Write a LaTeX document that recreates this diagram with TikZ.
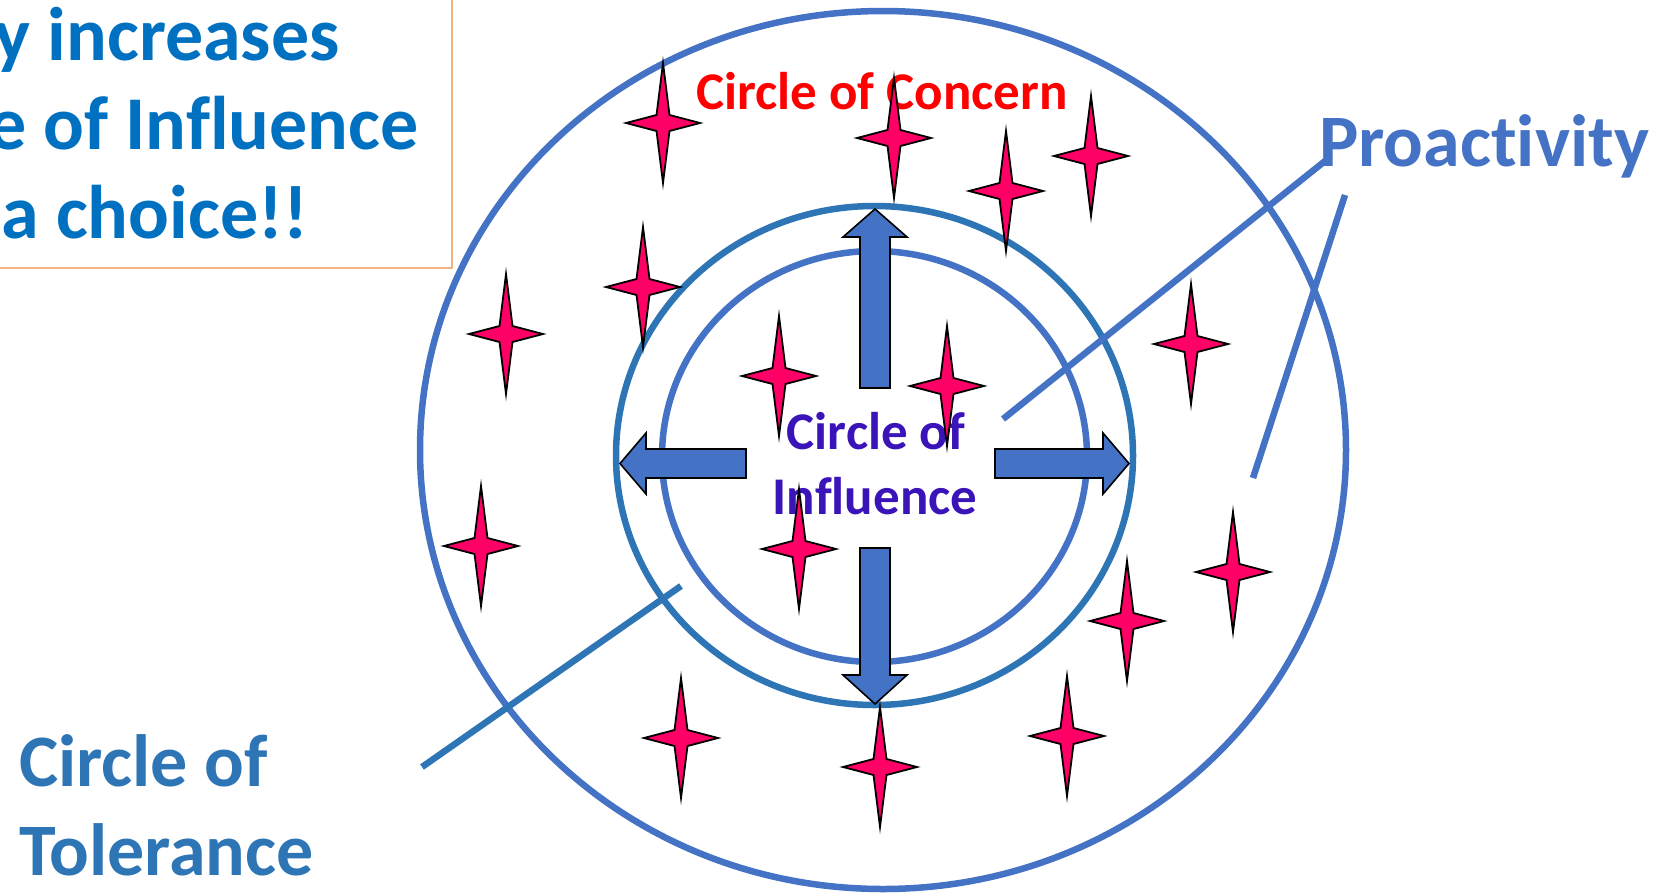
\documentclass[tikz,border=0pt]{standalone}
\usepackage{fontspec}
\setmainfont{Carlito}[RawFeature={-liga;-clig;-calt}]
\definecolor{accblue}{HTML}{4472C4}
\definecolor{tolblue}{HTML}{2E75B6}
\definecolor{boxblue}{HTML}{0070C0}
\definecolor{starpink}{HTML}{FF0066}
\definecolor{inflpurple}{HTML}{3A14B8}
\definecolor{boxorange}{HTML}{F4B183}
\begin{document}
\begin{tikzpicture}[x=1pt,y=-1pt,
  ring/.style={line width=6.5pt},
  pointer/.style={line width=6.5pt},
  arrowbody/.style={fill=accblue, draw=black, line width=1.6pt, line join=miter},
  starpt/.pic={\path[fill=starpink, draw=black, line width=1.8pt, line join=miter]
     (0,-60) -- (6.5,-8) -- (37,0) -- (6.5,8) -- (0,60) -- (-6.5,8) -- (-37,0) -- (-6.5,-8) -- cycle;},
  lbl/.style={inner sep=0pt}
]
\useasboundingbox (0,0) rectangle (1655,892);
\clip (0,0) rectangle (1655,892);

% text box (clipped at left/top)
\draw[boxorange, line width=1.6pt] (-10,-10) rectangle (452,268);
\node[lbl, text=boxblue, font=\bfseries\fontsize{76}{90}\selectfont, anchor=base east] (t1) at (340,60) {y increases};
\node[lbl, text=boxblue, font=\bfseries\fontsize{76}{90}\selectfont, anchor=base east] (t2) at (419,149) {e of Influence};
\node[lbl, text=boxblue, font=\bfseries\fontsize{76}{90}\selectfont, anchor=base east] (t3) at (308,238) {a choice!!};

% circles
\draw[ring, accblue] (883,450) ellipse [x radius=463, y radius=439];
\draw[ring, tolblue] (874.5,455.5) ellipse [x radius=258.5, y radius=249.5];
\draw[ring, accblue] (874.5,456.5) ellipse [x radius=212.5, y radius=205.5];

% labels
\node[lbl, text=red, font=\bfseries\fontsize{53}{64}\selectfont, anchor=base] (concern) at (882,109) {Circle of Concern};
\node[lbl, text=accblue, font=\bfseries\fontsize{74}{88}\selectfont, anchor=base west] (proact) at (1319,166) {Proactivity};
\node[lbl, text=tolblue, font=\bfseries\fontsize{74}{88}\selectfont, anchor=base west] (tol1) at (19,786) {Circle of};
\node[lbl, text=tolblue, font=\bfseries\fontsize{74}{88}\selectfont, anchor=base west] (tol2) at (19,875) {Tolerance};
\node[lbl, text=inflpurple, font=\bfseries\fontsize{53}{64}\selectfont, anchor=base] (infl1) at (876,449) {Circle of};
\node[lbl, text=inflpurple, font=\bfseries\fontsize{53}{64}\selectfont, anchor=base] (infl2) at (875,514) {Influence};

% pointer lines
\coordinate (pa1) at (1325,161);
\coordinate (pa2) at (1003,419);
\coordinate (pb1) at (1345,195);
\coordinate (pb2) at (1253,478);
\coordinate (ta1) at (422,767);
\coordinate (ta2) at (681,586);
\draw[pointer, accblue] (pa1) -- (pa2);
\draw[pointer, accblue] (pb1) -- (pb2);
\draw[pointer, tolblue] (ta1) -- (ta2);

% arrows
\path[arrowbody] (860,388) -- (860,237) -- (843,237) -- (875,209) -- (907,237) -- (890,237) -- (890,388) -- cycle;
\path[arrowbody] (860,548) -- (860,675) -- (843,675) -- (875,704) -- (907,675) -- (890,675) -- (890,548) -- cycle;
\path[arrowbody] (746,449) -- (646,449) -- (646,433) -- (620,463.5) -- (646,494) -- (646,478) -- (746,478) -- cycle;
\path[arrowbody] (995,449) -- (1103,449) -- (1103,433) -- (1129,463.5) -- (1103,494) -- (1103,478) -- (995,478) -- cycle;

% stars
\foreach \sx/\sy in {663/123, 894/138, 1006/191, 1091/156, 643/287, 506/334, 1191/344,
  779/376, 947/386, 481/546, 799/549, 1233/572, 1127/621, 681/738, 880/767, 1067/736}
  \pic at (\sx,\sy) {starpt};
\end{tikzpicture}
\end{document}
